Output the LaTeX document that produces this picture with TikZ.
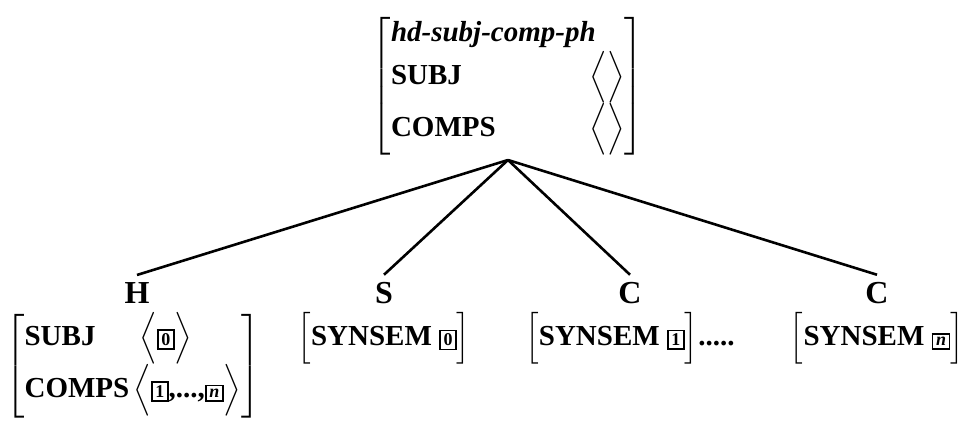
\documentclass[tikz,border=0pt]{standalone}
\usepackage{amsmath}
\usepackage{fontspec}
\setmainfont{Liberation Serif}
\usepackage{tikz}
\usetikzlibrary{positioning}

% boxed structure-sharing tags
\newcommand{\tagbox}[1]{{\setlength{\fboxsep}{1.3pt}\setlength{\fboxrule}{0.9pt}\fbox{\fontsize{9}{9}\selectfont\bfseries #1}}}
\newcommand{\emptylist}{\Big\langle\Big\rangle}

\begin{document}
\begin{tikzpicture}[
    x=0.5pt, y=-0.5pt,
    avm/.style={inner sep=1pt, font=\fontsize{14.5}{17}\selectfont\bfseries},
    cat/.style={font=\fontsize{16}{18}\selectfont\bfseries},
    branch/.style={line width=1.3pt},
]
\useasboundingbox (0,0) rectangle (970,423);

% mother phrase
\node[avm, anchor=south, inner sep=2pt] (mother) at (508,160) {$\left[\begin{tabular}{@{}l@{\hspace{47pt}}r@{}}
  \multicolumn{2}{@{}l@{}}{\textit{hd-subj-comp-ph}}\\
  SUBJ & $\emptylist$\\
  COMPS & $\emptylist$
\end{tabular}\right]$};

% daughters
\node[cat, anchor=base] (hd) at (137,303) {H};
\node[cat, anchor=base] (subj) at (384,303) {S};
\node[cat, anchor=base] (comp1) at (630,303) {C};
\node[cat, anchor=base] (compn) at (877,303) {C};

\node[avm, below=0pt of hd, xshift=-2pt] (hdavm) {$\left[\begin{tabular}{@{}l@{\hspace{2pt}}l@{}}
  SUBJ & \hspace{3pt}$\Big\langle\tagbox{0}\Big\rangle$\\
  COMPS & $\Big\langle\tagbox{1}\text{,...,}\tagbox{\textit{n}}\Big\rangle$\\[6pt]
\end{tabular}\right]$};
\node[avm, below=0pt of subj] (subjavm) {$\Big[\text{SYNSEM}\ \tagbox{0}\Big]$};
\node[avm, below=0pt of comp1] (comp1avm) {$\Big[\text{SYNSEM}\ \tagbox{1}\Big]$.....};
\node[avm, below=0pt of compn] (compnavm) {$\Big[\text{SYNSEM}\ \tagbox{\textit{n}}\Big]$};

\foreach \d in {hd,subj,comp1,compn}
  \draw[branch] (mother.south) -- (\d.north);

\end{tikzpicture}
\end{document}
